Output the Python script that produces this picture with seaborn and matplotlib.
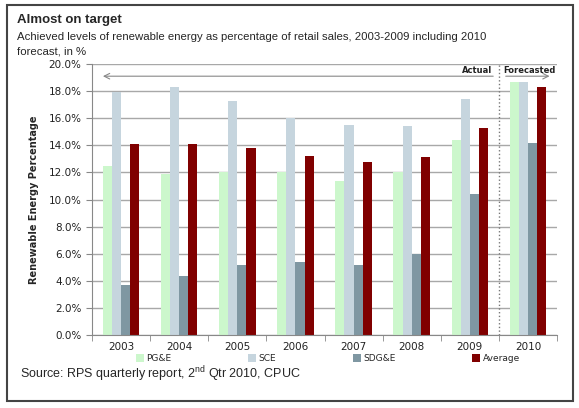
import numpy as np
import pandas as pd
import matplotlib
matplotlib.use("Agg")
import matplotlib.pyplot as plt
import seaborn as sns
from matplotlib.patches import Rectangle
from matplotlib.ticker import FixedLocator, PercentFormatter

years = ["2003", "2004", "2005", "2006", "2007", "2008", "2009", "2010"]
pge = [12.5, 11.9, 12.0, 12.0, 11.4, 12.0, 14.4, 18.7]
sce = [17.9, 18.3, 17.3, 16.0, 15.5, 15.4, 17.4, 18.7]
sdge = [3.7, 4.35, 5.2, 5.4, 5.2, 5.95, 10.4, 14.2]
average = [14.1, 14.1, 13.8, 13.2, 12.8, 13.1, 15.3, 18.3]

utilities = ["PG&E", "SCE", "SDG&E", "Average"]
colors = ["#ccf7cc", "#c6d5de", "#7f97a2", "#800000"]

df = pd.DataFrame({"year": years, "PG&E": pge, "SCE": sce,
                   "SDG&E": sdge, "Average": average})
df_long = df.melt(id_vars="year", var_name="utility", value_name="pct")

sns.set_style("white")
plt.rcParams["font.family"] = ["DejaVu Sans"]
plt.rcParams["mathtext.fontset"] = "custom"
plt.rcParams["mathtext.rm"] = "Liberation Sans"

fig = plt.figure(figsize=(5.79, 4.08), dpi=100)
W, H = 579, 408
ax = fig.add_axes([92 / W, 1 - 335 / H, 465 / W, 271 / H])

sns.barplot(data=df_long, x="year", y="pct", hue="utility",
            hue_order=utilities, palette=colors, width=0.63,
            saturation=1, ax=ax, errorbar=None, linewidth=0)

ax.set_xlim(-0.5, 7.5)
ax.set_ylim(0, 20)
ax.yaxis.set_major_locator(FixedLocator(np.arange(0, 20.1, 2)))
ax.yaxis.set_major_formatter(PercentFormatter(decimals=1))
ax.grid(axis="y", color="#a8a8a8", linewidth=1)
ax.set_axisbelow(True)
for s in ["top", "right"]:
    ax.spines[s].set_visible(False)
ax.spines["left"].set_color("#888888")
ax.spines["bottom"].set_color("#888888")

ax.xaxis.set_minor_locator(FixedLocator(np.arange(-0.5, 8, 1)))
ax.tick_params(axis="x", which="major", length=0, labelsize=7.5, pad=5,
               labelcolor="#222222")
ax.tick_params(axis="x", which="minor", length=4, color="#888888",
               direction="out", bottom=True)
ax.tick_params(axis="y", length=4, color="#888888", labelsize=7.5,
               left=True, labelcolor="#222222")
ax.set_xlabel("")
ax.set_ylabel("Renewable Energy Percentage", fontsize=7,
              fontweight="bold")
ax.yaxis.set_label_coords((39 - 92) / 465, 0.5)

# actual / forecasted markers
ax.axvline(6.5, color="#777777", linestyle=":", linewidth=1)
ax.annotate("", xy=(-0.36, 19.1), xytext=(6.45, 19.1),
            arrowprops=dict(arrowstyle="->", color="#888888", lw=0.8))
ax.annotate("", xy=(7.42, 19.1), xytext=(6.57, 19.1),
            arrowprops=dict(arrowstyle="->", color="#888888", lw=0.8))
ax.text(6.38, 19.5, "Actual", ha="right", va="center", fontsize=6,
        fontweight="bold", color="#222222")
ax.text(6.57, 19.5, "Forecasted", ha="left", va="center", fontsize=6,
        fontweight="bold", color="#222222")

leg = ax.legend(loc="center left",
                bbox_to_anchor=(40 / 465, -25 / 271, 392 / 465, 0.01),
                mode="expand", ncol=4, frameon=False, fontsize=6.5,
                handlelength=0.9, handleheight=0.9, handletextpad=0.3,
                borderaxespad=0)

fig.text(17 / W, 1 - 20 / H, "Almost on target", fontsize=9.5,
         fontweight="bold", family="Liberation Sans", va="center")
fig.text(17 / W, 1 - 37 / H,
         "Achieved levels of renewable energy as percentage of retail sales, 2003-2009 including 2010",
         fontsize=8.2, family="Liberation Sans", va="center")
fig.text(17 / W, 1 - 51 / H, "forecast, in %", fontsize=8.2,
         family="Liberation Sans", va="center")
fig.text(20 / W, 1 - 374 / H,
         r"Source: RPS quarterly report, 2$^{\rm nd}$ Qtr 2010, CPUC",
         fontsize=9, family="Liberation Sans", va="center")

fig.patches.append(Rectangle((7 / W, 1 - 401 / H), 566 / W, 396 / H,
                             transform=fig.transFigure, fill=False,
                             edgecolor="#444444", linewidth=1.5))

fig.savefig("out.png", dpi=100)
